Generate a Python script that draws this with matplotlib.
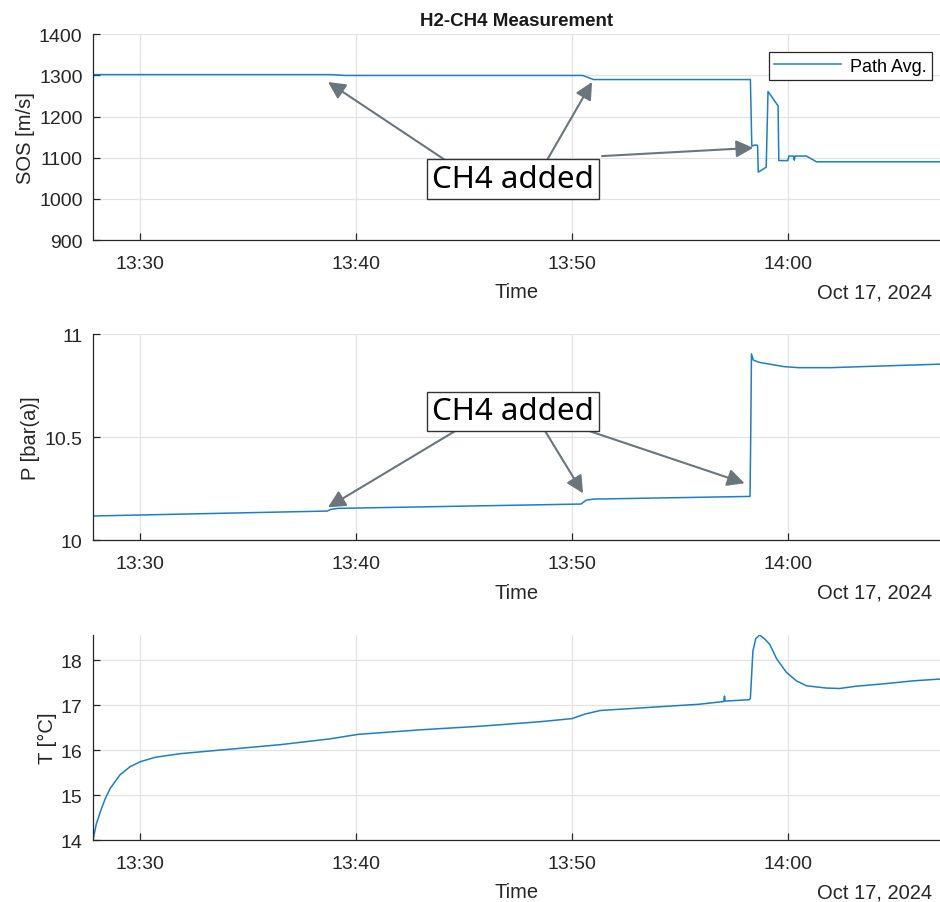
import matplotlib
matplotlib.use("Agg")
import matplotlib.pyplot as plt
import matplotlib.dates as mdates
from datetime import datetime

plt.rcParams["font.family"] = ["Liberation Sans", "DejaVu Sans"]

DAY = "2024-10-17 "

# Speed of sound, path average [m/s]
sos_time = ["13:27:49", "13:38:50", "13:39:30", "13:50:30", "13:51:00", "13:58:16",
            "13:58:20", "13:58:28", "13:58:36", "13:58:38", "13:59:00", "13:59:05",
            "13:59:33", "13:59:35", "14:00:00", "14:00:03", "14:00:16", "14:00:18",
            "14:00:20", "14:00:52", "14:01:20", "14:07:03"]
sos_val = [1302, 1302, 1300, 1300, 1290, 1290,
           1128, 1131, 1130, 1065, 1077, 1261,
           1226, 1093, 1093, 1104, 1104, 1094,
           1104, 1104, 1090, 1090]

# Pressure [bar(a)]
p_time = ["13:27:49", "13:38:40", "13:38:50", "13:39:10", "13:50:25", "13:50:40",
          "13:51:00", "13:58:15", "13:58:17", "13:58:19", "13:58:24", "13:58:40",
          "13:59:10", "13:59:50", "14:00:30", "14:02:00", "14:04:00", "14:07:03"]
p_val = [10.118, 10.142, 10.150, 10.155, 10.176, 10.195,
         10.200, 10.213, 10.51, 10.905, 10.875, 10.864,
         10.855, 10.843, 10.838, 10.838, 10.845, 10.855]

# Temperature [°C]
t_time = ["13:27:49", "13:27:58", "13:28:09", "13:28:23", "13:28:37", "13:29:04",
          "13:29:32", "13:30:00", "13:30:42", "13:31:51", "13:33:42", "13:36:29",
          "13:38:48", "13:40:06", "13:42:58", "13:45:44", "13:48:30", "13:50:00",
          "13:50:36", "13:51:18", "13:53:36", "13:55:54", "13:57:02", "13:57:04",
          "13:57:06", "13:58:12", "13:58:16", "13:58:23", "13:58:31", "13:58:42",
          "13:58:56", "13:59:10", "13:59:29", "13:59:56", "14:00:24", "14:00:52",
          "14:01:47", "14:02:24", "14:03:09", "14:04:34", "14:05:48", "14:07:03"]
t_val = [14.00, 14.35, 14.62, 14.92, 15.15, 15.45,
         15.63, 15.74, 15.84, 15.92, 16.00, 16.12,
         16.25, 16.35, 16.45, 16.53, 16.63, 16.70,
         16.80, 16.88, 16.95, 17.02, 17.08, 17.20,
         17.09, 17.12, 17.15, 18.20, 18.48, 18.56,
         18.47, 18.35, 18.03, 17.73, 17.54, 17.43,
         17.38, 17.37, 17.42, 17.48, 17.54, 17.58]

x_start, x_end = "13:27:49", "14:07:03"
date_label = "Oct 17, 2024"
note_text = "CH4 added"

# Arrow tips (time, value) pointing at the CH4 additions
sos_tips = [("13:38:42", 1284), ("13:50:56", 1284), ("13:58:24", 1124)]
p_tips = [("13:38:42", 10.16), ("13:50:31", 10.228), ("13:58:00", 10.277)]


def tt(s):
    return datetime.strptime(DAY + s, "%Y-%m-%d %H:%M:%S")


LINE = "#1a7fc9"
AX_COL = "#262626"
GRID = "#e3e3e3"
ARROW = "#6b767c"

fig = plt.figure(figsize=(9.40, 9.03), dpi=100)
W, H = 940, 903


def make_axes(top_px, bottom_px):
    left, right = 93, 940
    return fig.add_axes([left / W, (H - bottom_px) / H,
                         (right - left) / W, (bottom_px - top_px) / H])


ax1 = make_axes(35.3, 241)
ax2 = make_axes(335.3, 541.3)
ax3 = make_axes(636, 841)

ax1.plot([tt(s) for s in sos_time], sos_val, color=LINE, lw=1.1, label="Path Avg.")
ax2.plot([tt(s) for s in p_time], p_val, color=LINE, lw=1.1)
ax3.plot([tt(s) for s in t_time], t_val, color=LINE, lw=1.1)

ax1.set_ylim(900, 1400)
ax1.set_yticks([900, 1000, 1100, 1200, 1300, 1400])
ax2.set_ylim(10, 11)
ax2.set_yticks([10, 10.5, 11])
ax2.set_yticklabels(["10", "10.5", "11"])
ax3.set_ylim(min(t_val), max(t_val))
ax3.set_yticks([14, 15, 16, 17, 18])

ax1.set_ylabel("SOS [m/s]", fontsize=14.5, color=AX_COL, labelpad=3)
ax2.set_ylabel("P [bar(a)]", fontsize=14.5, color=AX_COL, labelpad=3)
ax3.set_ylabel("T [°C]", fontsize=14.5, color=AX_COL, labelpad=3)

for ax in (ax1, ax2, ax3):
    ax.set_xlim(tt(x_start), tt(x_end))
    ax.xaxis.set_major_locator(mdates.MinuteLocator(byminute=[0, 10, 20, 30, 40, 50]))
    ax.xaxis.set_major_formatter(mdates.DateFormatter("%H:%M"))
    ax.grid(True, color=GRID, lw=0.9)
    ax.set_axisbelow(True)
    for side in ("top", "right"):
        ax.spines[side].set_visible(False)
    for side in ("left", "bottom"):
        ax.spines[side].set_color(AX_COL)
        ax.spines[side].set_linewidth(0.9)
    ax.tick_params(direction="in", length=5, width=0.9, color=AX_COL,
                   labelsize=14, labelcolor=AX_COL)
    ax.tick_params(axis="x", pad=10.5)
    ax.tick_params(axis="y", pad=7.5)
    ax.set_xlabel("Time", fontsize=14.5, color=AX_COL, va="top")
    ax.xaxis.set_label_coords(0.5, -0.205)
    ax.text(0.9906, -0.205, date_label, transform=ax.transAxes, ha="right",
            va="top", fontsize=14.5, color=AX_COL)

ax1.set_title("H2-CH4 Measurement", fontsize=13.5, fontweight="bold",
              color="#1a1a1a", pad=7)

leg = ax1.legend(loc="upper right", bbox_to_anchor=(0.9906, 0.9125),
                 borderaxespad=0, fontsize=13, handlelength=3.7,
                 fancybox=False, framealpha=1, borderpad=0.3,
                 handletextpad=0.5)
leg.get_frame().set_edgecolor(AX_COL)
leg.get_frame().set_linewidth(0.9)

box_style = dict(boxstyle="square,pad=0.15", fc="white", ec="#333333", lw=1.0)
note_font = dict(fontsize=22.5, family=["Noto Sans", "DejaVu Sans"], color="black")
arrow_style = dict(arrowstyle="-|>", color=ARROW, lw=1.5, mutation_scale=26,
                   shrinkA=0, shrinkB=0)

# Top panel: text box with three arrows
sos_tails = [(0.416, 0.388), (0.536, 0.388), (0.601, 0.408)]
for (ts, v), tail in zip(sos_tips, sos_tails):
    ax1.annotate("", xy=(tt(ts), v), xycoords="data", xytext=tail,
                 textcoords="axes fraction", arrowprops=arrow_style)
ax1.text(0.496, 0.297, note_text, transform=ax1.transAxes, ha="center",
         va="center", bbox=box_style, zorder=5, **note_font)

# Middle panel: text box with three arrows
p_tails = [(0.427, 0.529), (0.534, 0.529), (0.587, 0.529)]
for (ts, v), tail in zip(p_tips, p_tails):
    ax2.annotate("", xy=(tt(ts), v), xycoords="data", xytext=tail,
                 textcoords="axes fraction", arrowprops=arrow_style)
ax2.text(0.496, 0.626, note_text, transform=ax2.transAxes, ha="center",
         va="center", bbox=box_style, zorder=5, **note_font)

fig.savefig("out.png", dpi=100)
